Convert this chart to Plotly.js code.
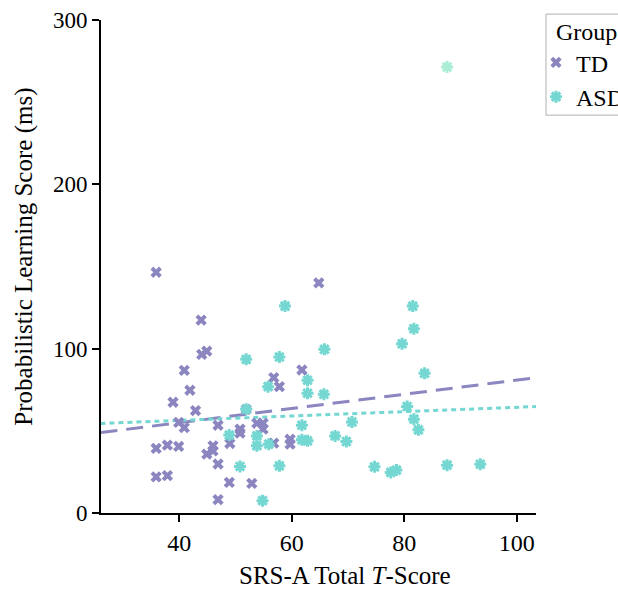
<!DOCTYPE html>
<html>
<head>
<meta charset="utf-8">
<script src="https://cdn.plot.ly/plotly-3.0.1.min.js"></script>
<style>html,body{margin:0;padding:0;background:#fff;}#chart{width:618px;height:589px;}</style>
</head>
<body>
<div id="chart"></div>
<script>
// TD group (SRS-A T-score, learning score ms)
var tdX = [35.9,43.9,44.0,44.9,40.9,41.9,38.9,42.9,39.9,40.9,46.9,35.9,37.9,39.9,35.9,37.9,46.0,44.9,46.0,49.0,46.9,48.9,52.9,46.9,50.8,50.8,51.9,53.8,54.9,54.9,56.8,57.8,56.8,59.7,59.7,61.8,64.8];
var tdY = [146.5,117.4,96.5,98.5,86.8,74.7,67.4,62.3,55.1,52.0,53.4,39.3,41.3,40.5,22.0,22.7,40.9,35.8,37.8,42.3,29.8,18.6,18.0,8.1,51.0,48.6,63.1,54.6,54.6,51.0,82.4,76.9,42.5,44.9,41.9,87.0,140.0];
// ASD group
var asdX = [58.8,51.9,57.8,55.8,62.8,62.8,51.9,48.9,53.8,53.8,55.9,50.8,57.8,54.8,61.8,61.8,62.8,81.5,81.7,79.6,65.8,83.6,65.7,80.5,81.7,82.5,70.7,67.7,69.7,74.7,77.6,78.6,87.6,93.5];
var asdY = [125.9,93.5,94.9,76.9,80.8,72.9,63.1,47.4,46.9,40.9,41.9,28.3,28.7,7.5,53.4,44.5,43.9,125.9,112.1,103.0,99.6,85.0,72.3,64.8,57.1,50.6,55.4,46.9,43.5,28.1,24.7,26.1,29.1,29.7];
var asdOutlierX = [87.6];
var asdOutlierY = [271.4];
// fitted regression lines
var fitX = [26, 103.5];
var tdFitY = [48.9, 82.4];
var asdFitY = [54.5, 64.8];
var xTicks = [40, 60, 80, 100];
var yTicks = [0, 100, 200, 300];

var tdColor = '#8b86c0';
var asdColor = '#74d7d2';
var font = 'Liberation Serif, Times New Roman, serif';

var traces = [
  {x: fitX, y: tdFitY, mode: 'lines', type: 'scatter', showlegend: false, hoverinfo: 'skip',
   line: {color: tdColor, width: 3, dash: '17px,9px'}},
  {x: fitX, y: asdFitY, mode: 'lines', type: 'scatter', showlegend: false, hoverinfo: 'skip',
   line: {color: asdColor, width: 3, dash: '5px,4px'}},
  {x: tdX, y: tdY, mode: 'markers', type: 'scatter', name: 'TD',
   marker: {symbol: 'x', size: 10, color: tdColor, line: {width: 0}}},
  {x: asdX, y: asdY, mode: 'markers', type: 'scatter', name: 'ASD',
   marker: {symbol: 'asterisk-open', size: 10, color: asdColor, line: {color: asdColor, width: 3}}},
  {x: asdOutlierX, y: asdOutlierY, mode: 'markers', type: 'scatter', name: 'ASD', showlegend: false,
   marker: {symbol: 'asterisk-open', size: 10, color: '#aaeed6', line: {color: '#aaeed6', width: 3}}}
];

var layout = {
  width: 618, height: 589,
  margin: {l: 101, r: 82, t: 20, b: 76, autoexpand: false},
  paper_bgcolor: '#fff', plot_bgcolor: '#fff',
  font: {family: font, size: 24, color: '#000'},
  showlegend: true,
  legend: {x: 1.0, y: 1.022, xanchor: 'left', yanchor: 'top',
    title: {text: '\u00a0\u00a0\u00a0Group', font: {family: font, size: 24}},
    borderwidth: 0, bgcolor: 'rgba(0,0,0,0)',
    font: {family: font, size: 24}, itemwidth: 30, tracegroupgap: 0},
  shapes: [
    {type: 'rect', xref: 'paper', yref: 'paper', x0: 1.023, x1: 1.3, y0: 0.807, y1: 1.012,
     line: {color: '#b0b0b0', width: 1}, fillcolor: 'rgba(0,0,0,0)', layer: 'below'}
  ],
  annotations: [
    {text: 'SRS-A Total <i>T</i>-Score', xref: 'paper', yref: 'paper', x: 0.561, y: -0.126,
     xanchor: 'center', yanchor: 'middle', showarrow: false, font: {family: font, size: 25}},
    {text: 'Probabilistic Learning Score (ms)', xref: 'paper', yref: 'paper', x: -0.177, y: 0.52,
     xanchor: 'center', yanchor: 'middle', textangle: -90, showarrow: false, font: {family: font, size: 25}}
  ],
  xaxis: {range: [26.1, 103.4], tickvals: xTicks, ticktext: xTicks.map(String),
    showgrid: false, zeroline: false, showline: true, linecolor: '#000', linewidth: 2,
    ticks: 'outside', ticklen: 7, tickwidth: 2, tickcolor: '#000',
    tickfont: {family: font, size: 24}},
  yaxis: {range: [0, 300], tickvals: yTicks, ticktext: yTicks.map(String),
    showgrid: false, zeroline: false, showline: true, linecolor: '#000', linewidth: 2,
    ticks: 'outside', ticklen: 7, tickwidth: 2, tickcolor: '#000',
    tickfont: {family: font, size: 23}}
};

Plotly.newPlot('chart', traces, layout, {displayModeBar: false, staticPlot: true});
</script>
</body>
</html>
